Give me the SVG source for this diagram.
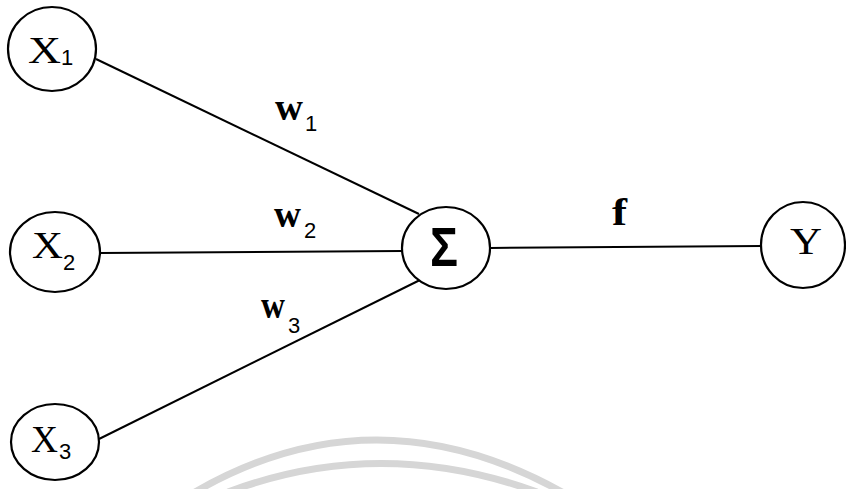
<svg xmlns="http://www.w3.org/2000/svg" width="846" height="489" viewBox="0 0 846 489">
<style>
.node{fill:#fff;stroke:#000;stroke-width:2.2}
.edge{stroke:#000;stroke-width:2;fill:none}
.big{font-family:"Liberation Serif",serif;font-size:38px;fill:#000}
.sub{font-family:"Liberation Sans",sans-serif;font-size:22px;fill:#000}
.lbl{font-family:"Liberation Serif",serif;font-weight:bold;font-size:38px;fill:#000}
.wm{stroke:#d6d6d6;stroke-width:7;fill:none}
</style>
<rect width="846" height="489" fill="#fff"/>
<g id="watermark">
<path class="wm" d="M 195 492 Q 375 388 562 492"/>
<path class="wm" d="M 228 492 Q 380 435 537 492"/>
</g>
<g id="connectors">
<line class="edge" x1="96" y1="59" x2="419" y2="214"/>
<line class="edge" x1="100" y1="253" x2="402" y2="251"/>
<line class="edge" x1="99" y1="439" x2="422" y2="279"/>
<line class="edge" x1="490" y1="248" x2="762" y2="246"/>
<text class="lbl" x="275" y="120" textLength="28" lengthAdjust="spacingAndGlyphs">w</text>
<text class="sub" x="305" y="131">1</text>
<text class="lbl" x="274" y="227" textLength="27" lengthAdjust="spacingAndGlyphs">w</text>
<text class="sub" x="304" y="238">2</text>
<text class="lbl" x="261" y="318" textLength="24" lengthAdjust="spacingAndGlyphs">w</text>
<text class="sub" x="288" y="333">3</text>
<text class="lbl" x="612" y="225" textLength="15" lengthAdjust="spacingAndGlyphs">f</text>
</g>
<g id="x1">
<ellipse class="node" cx="52" cy="49" rx="44" ry="42"/>
<text class="big" x="28" y="63" textLength="33" lengthAdjust="spacingAndGlyphs">X</text>
<text class="sub" x="61" y="65">1</text>
</g>
<g id="x2">
<ellipse class="node" cx="55" cy="252" rx="45" ry="40"/>
<text class="big" x="32" y="258" textLength="31" lengthAdjust="spacingAndGlyphs">X</text>
<text class="sub" x="63" y="270">2</text>
</g>
<g id="x3">
<ellipse class="node" cx="55" cy="442" rx="44" ry="38"/>
<text class="big" x="31" y="452" textLength="27" lengthAdjust="spacingAndGlyphs">X</text>
<text class="sub" x="59" y="459">3</text>
</g>
<g id="sum">
<ellipse class="node" cx="446" cy="248" rx="44" ry="41"/>
<text x="430" y="266" font-family="Liberation Sans, sans-serif" font-weight="bold" font-size="55" textLength="28" lengthAdjust="spacingAndGlyphs">Σ</text>
</g>
<g id="y">
<ellipse class="node" cx="803" cy="245" rx="42" ry="43"/>
<text class="big" x="790" y="254" textLength="32" lengthAdjust="spacingAndGlyphs">Y</text>
</g>
</svg>
